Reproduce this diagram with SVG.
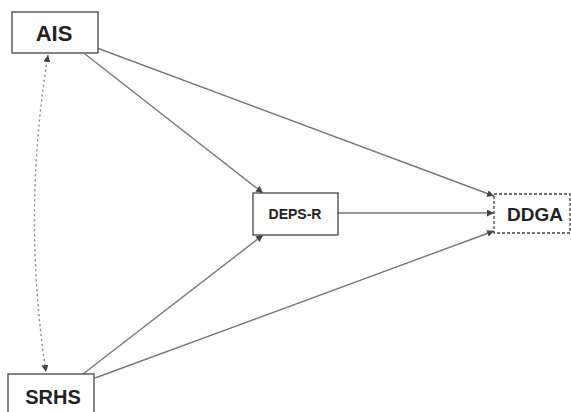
<svg xmlns="http://www.w3.org/2000/svg" width="571" height="412" viewBox="0 0 571 412">
<style>
.box{fill:#fff;stroke:#444;stroke-width:1.3}
.lbl{font-family:"Liberation Sans",Arial,sans-serif;font-weight:bold;fill:#222;text-anchor:middle}
.edge{fill:none;stroke:#777;stroke-width:1.4}
.dash{fill:none;stroke:#888;stroke-width:1.4;stroke-dasharray:2,3}
</style>
<defs>
<marker id="ah" viewBox="0 0 10 10" refX="10" refY="5" markerWidth="7" markerHeight="7" orient="auto-start-reverse" markerUnits="userSpaceOnUse">
<path d="M0,0 L10,5 L0,10 z" fill="#444"/>
</marker>
</defs>
<rect width="571" height="412" fill="#fff"/>
<g id="connectors">
<path class="dash" d="M48,55 Q22,215 46,372" marker-start="url(#ah)" marker-end="url(#ah)"/>
<line class="edge" x1="85" y1="54" x2="263" y2="193" marker-end="url(#ah)"/>
<line class="edge" x1="97" y1="48" x2="494" y2="196" marker-end="url(#ah)"/>
<line class="edge" x1="338" y1="213" x2="494" y2="213" marker-end="url(#ah)"/>
<line class="edge" x1="83" y1="374" x2="263" y2="235" marker-end="url(#ah)"/>
<line class="edge" x1="95" y1="378" x2="494" y2="231" marker-end="url(#ah)"/>
</g>
<g id="AIS">
<rect class="box" x="12" y="12" width="86" height="41"/>
<text class="lbl" x="54" y="41" font-size="22">AIS</text>
</g>
<g id="SRHS">
<rect class="box" x="8" y="374" width="86" height="45"/>
<text class="lbl" x="53" y="404" font-size="20">SRHS</text>
</g>
<g id="DEPS-R">
<rect class="box" x="253" y="193" width="85" height="42"/>
<text class="lbl" x="295" y="219" font-size="14">DEPS-R</text>
</g>
<g id="DDGA">
<rect class="box" x="494" y="194" width="76" height="39" style="stroke-dasharray:3,2"/>
<text class="lbl" x="535" y="221" font-size="19">DDGA</text>
</g>
</svg>
